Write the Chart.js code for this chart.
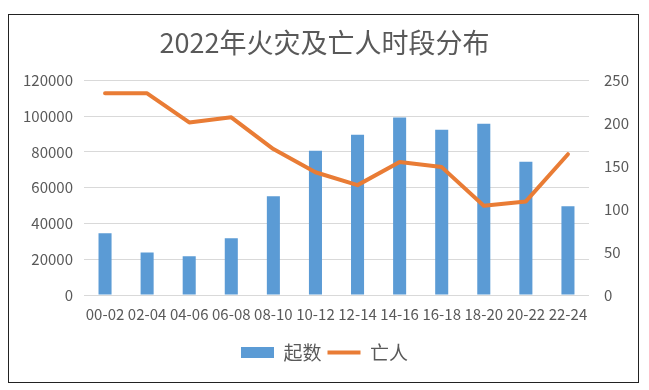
<!DOCTYPE html>
<html>
<head>
<meta charset="utf-8">
<script src="https://cdn.jsdelivr.net/npm/chart.js@4"></script>
<style>
  html, body { margin: 0; padding: 0; background: #fff; }
  #wrap { position: relative; width: 649px; height: 390px; }
  #frame { position: absolute; left: 8px; top: 14px; width: 629px; height: 367px; border: 1px solid #222; pointer-events: none; }
  canvas { display: block; }
</style>
</head>
<body>
<div id="wrap">
  <canvas id="c" width="649" height="390"></canvas>
  <div id="frame"></div>
</div>
<script>
const titleText = '2022年火灾及亡人时段分布';
const categories = ['00-02','02-04','04-06','06-08','08-10','10-12','12-14','14-16','16-18','18-20','20-22','22-24'];
const fireCounts = [34500, 23700, 21600, 31700, 55200, 80600, 89600, 99200, 92400, 95800, 74500, 49600];
const deaths = [235, 235, 201, 207, 170, 143, 128, 155, 149, 104, 109, 164];
const seriesNames = ['起数', '亡人'];
const leftTicks = { min: 0, max: 120000, step: 20000 };
const rightTicks = { min: 0, max: 250, step: 50 };

const FONT = "'Noto Sans CJK SC', 'Noto Sans', sans-serif";
const TXT = '#595959';
const BLUE = '#5B9BD5';
const ORANGE = '#E97C35';

new Chart(document.getElementById('c'), {
  data: {
    labels: categories,
    datasets: [
      {
        type: 'bar', label: seriesNames[0], data: fireCounts, yAxisID: 'y',
        backgroundColor: BLUE, borderWidth: 0, barPercentage: 0.31, categoryPercentage: 1.0, order: 2
      },
      {
        type: 'line', label: seriesNames[1], data: deaths, yAxisID: 'y1',
        borderColor: ORANGE, backgroundColor: ORANGE, borderWidth: 4, pointRadius: 0,
        tension: 0, order: 1, borderJoinStyle: 'round', borderCapStyle: 'round'
      }
    ]
  },
  options: {
    responsive: false,
    animation: false,
    layout: { padding: { top: 0, bottom: 18, left: 0, right: 0 } },
    plugins: {
      tooltip: { enabled: false },
      title: {
        display: true, text: titleText, color: TXT,
        font: { family: FONT, size: 27, weight: 'normal' },
        padding: { top: 27, bottom: 21 }
      },
      legend: {
        position: 'bottom',
        labels: {
          color: TXT, font: { family: FONT, size: 19 },
          usePointStyle: true, pointStyleWidth: 33, boxHeight: 11, padding: 6,
          generateLabels: (chart) => [
            { text: seriesNames[0], fillStyle: BLUE, strokeStyle: BLUE, lineWidth: 0, pointStyle: 'rect', datasetIndex: 0, fontColor: TXT },
            { text: seriesNames[1], fillStyle: ORANGE, strokeStyle: ORANGE, lineWidth: 4, pointStyle: 'line', datasetIndex: 1, fontColor: TXT }
          ]
        }
      }
    },
    scales: {
      x: {
        grid: { display: false, drawTicks: false },
        border: { display: false },
        ticks: { color: TXT, font: { family: FONT, size: 15 }, padding: 10, maxRotation: 0, autoSkip: false },
        afterFit: (s) => { s.height = 42; }
      },
      y: {
        position: 'left',
        min: leftTicks.min, max: leftTicks.max,
        ticks: { stepSize: leftTicks.step, color: TXT, font: { family: FONT, size: 15 }, padding: 11, callback: (v) => String(v) },
        grid: { color: '#d9d9d9', lineWidth: 1, drawTicks: false },
        border: { display: false },
        afterFit: (s) => { s.width = 84; }
      },
      y1: {
        position: 'right',
        min: rightTicks.min, max: rightTicks.max,
        ticks: { stepSize: rightTicks.step, color: TXT, font: { family: FONT, size: 15 }, padding: 15, callback: (v) => String(v) },
        grid: { display: false, drawTicks: false },
        border: { display: false },
        afterFit: (s) => { s.width = 60; }
      }
    }
  }
});
</script>
</body>
</html>
